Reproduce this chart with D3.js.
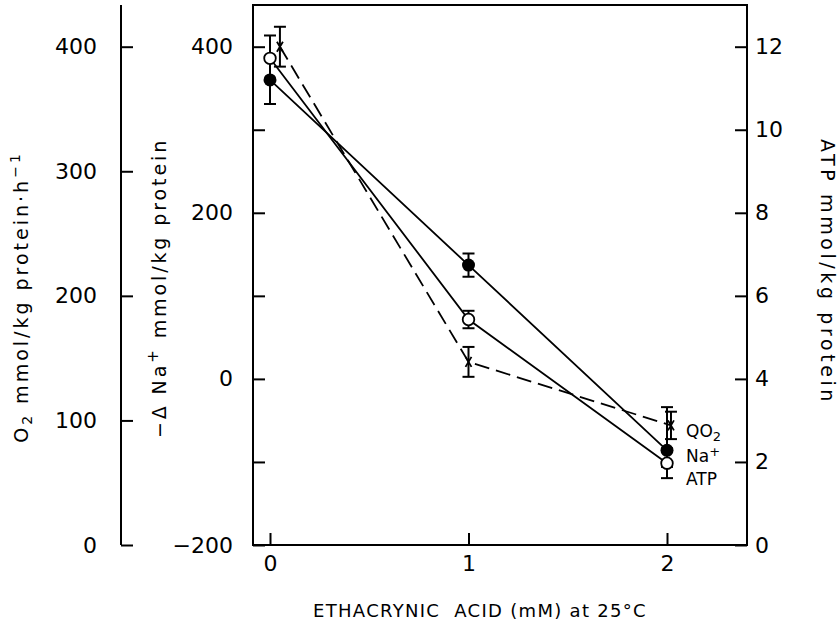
<!DOCTYPE html>
<html><head><meta charset="utf-8">
<script src="https://cdn.jsdelivr.net/npm/d3@7"></script>
<style>
body{margin:0;background:#fff}
svg text{font-family:"DejaVu Sans",sans-serif;fill:#000}
</style></head><body>
<svg id="c" width="839" height="627"></svg>
<script>
// ---- data ----
const xTicks = [0, 1, 2];
const naX = [0, 1, 2];
const naValues = [360, 137, -86];
const naErrUp = [29, 14, 52];
const naErrDown = [29, 14, 20];
const atpX = [0, 1, 2];
const atpValues = [11.72, 5.43, 1.97];
const atpErr = [0.55, 0.21, 0.36];
const qo2X = [0.05, 1, 2.02];
const qo2Values = [400, 147, 96];
const qo2Err = [16, 12, 11];
const naTicks = [-200, -100, 0, 100, 200, 300, 400];
const naTickLabels = [-200, 0, 200, 400];
const atpTicks = [0, 2, 4, 6, 8, 10, 12];
const o2Ticks = [0, 100, 200, 300, 400];

const svg = d3.select("#c");
const L = 253, R = 747, T = 5, B = 545;
const x = d3.scaleLinear().domain([0, 2]).range([270, 667]);
const yNa = d3.scaleLinear().domain([-200, 400]).range([B, 46.7]);
const yAtp = d3.scaleLinear().domain([0, 12]).range([B, 46.7]);
const yO2 = d3.scaleLinear().domain([0, 400]).range([B, 46.7]);

function styleAxis(g) {
  g.select(".domain").remove();
  g.selectAll(".tick line").attr("stroke", "#000").attr("stroke-width", 2);
  g.selectAll(".tick text").attr("font-size", 22).attr("font-family", "DejaVu Sans").attr("fill", "#000");
}

// frame
svg.append("rect").attr("x", L).attr("y", T).attr("width", R - L).attr("height", B - T)
  .attr("fill", "none").attr("stroke", "#000").attr("stroke-width", 2);

// middle (Na) axis: ticks inside, labels left
svg.append("g").attr("transform", `translate(${L},0)`)
  .call(d3.axisRight(yNa).tickValues(naTicks).tickSize(12).tickFormat(""))
  .call(styleAxis);
svg.append("g").attr("transform", `translate(${L},0)`)
  .call(d3.axisLeft(yNa).tickValues(naTickLabels).tickSize(0).tickPadding(20).tickFormat(d3.format("d")))
  .call(styleAxis);

// right (ATP) axis
svg.append("g").attr("transform", `translate(${R},0)`)
  .call(d3.axisLeft(yAtp).tickValues(atpTicks).tickSize(12).tickFormat(""))
  .call(styleAxis);
svg.append("g").attr("transform", `translate(${R},0)`)
  .call(d3.axisRight(yAtp).tickValues(atpTicks).tickSize(0).tickPadding(8).tickFormat(d3.format("d")))
  .call(styleAxis);

// left (O2) axis
const AX = 121;
svg.append("line").attr("x1", AX).attr("x2", AX).attr("y1", T).attr("y2", B)
  .attr("stroke", "#000").attr("stroke-width", 2);
svg.append("g").attr("transform", `translate(${AX},0)`)
  .call(d3.axisRight(yO2).tickValues(o2Ticks).tickSize(12).tickFormat(""))
  .call(styleAxis);
svg.append("g").attr("transform", `translate(${AX},0)`)
  .call(d3.axisLeft(yO2).tickValues(o2Ticks).tickSize(0).tickPadding(24).tickFormat(d3.format("d")))
  .call(styleAxis);

// x axis
svg.append("g").attr("transform", `translate(0,${B})`)
  .call(d3.axisTop(x).tickValues(xTicks).tickSize(12).tickFormat(""))
  .call(styleAxis);
svg.append("g").attr("transform", `translate(0,${B})`)
  .call(d3.axisBottom(x).tickValues(xTicks).tickSize(0).tickPadding(10).tickFormat(d3.format("d")))
  .call(styleAxis);

// ---- series ----
const na = naX.map((d, i) => ({x: d, y: naValues[i], up: naErrUp[i], dn: naErrDown[i]}));
const atp = atpX.map((d, i) => ({x: d, y: atpValues[i], up: atpErr[i], dn: atpErr[i]}));
const qo2 = qo2X.map((d, i) => ({x: d, y: qo2Values[i], up: qo2Err[i], dn: qo2Err[i]}));

function errBars(data, y) {
  const g = svg.append("g").attr("stroke", "#000").attr("stroke-width", 2);
  data.forEach(d => {
    const cx = x(d.x), y1 = y(d.y + d.up), y2 = y(d.y - d.dn);
    g.append("line").attr("x1", cx).attr("x2", cx).attr("y1", y1).attr("y2", y2);
    g.append("line").attr("x1", cx - 6).attr("x2", cx + 6).attr("y1", y1).attr("y2", y1);
    g.append("line").attr("x1", cx - 6).attr("x2", cx + 6).attr("y1", y2).attr("y2", y2);
  });
}
errBars(qo2, yO2);
errBars(na, yNa);
errBars(atp, yAtp);

const lineNa = d3.line().x(d => x(d.x)).y(d => yNa(d.y));
const lineAtp = d3.line().x(d => x(d.x)).y(d => yAtp(d.y));
const lineO2 = d3.line().x(d => x(d.x)).y(d => yO2(d.y));
svg.append("path").attr("d", lineO2(qo2)).attr("fill", "none").attr("stroke", "#000")
  .attr("stroke-width", 1.8).attr("stroke-dasharray", "15,7");
svg.append("path").attr("d", lineNa(na)).attr("fill", "none").attr("stroke", "#000").attr("stroke-width", 1.8);
svg.append("path").attr("d", lineAtp(atp)).attr("fill", "none").attr("stroke", "#000").attr("stroke-width", 1.8);

// x markers
svg.append("g").selectAll("path").data(qo2).join("path")
  .attr("d", d => { const cx = x(d.x), cy = yO2(d.y);
    return `M${cx-3},${cy-5}L${cx+3},${cy+5}M${cx+3},${cy-5}L${cx-3},${cy+5}`; })
  .attr("stroke", "#000").attr("stroke-width", 1.8).attr("fill", "none");

svg.append("g").selectAll("circle").data(na).join("circle")
  .attr("cx", d => x(d.x)).attr("cy", d => yNa(d.y)).attr("r", 6.5).attr("fill", "#000");
svg.append("g").selectAll("circle").data(atp).join("circle")
  .attr("cx", d => x(d.x)).attr("cy", d => yAtp(d.y)).attr("r", 5.8)
  .attr("fill", "#fff").attr("stroke", "#000").attr("stroke-width", 1.8);

// ---- series labels ----
const lab = svg.append("g").attr("font-size", 17);
const t1 = lab.append("text").attr("x", 686).attr("y", 437);
t1.append("tspan").text("QO");
t1.append("tspan").attr("font-size", 13).attr("dy", 4).text("2");
const t2 = lab.append("text").attr("x", 686).attr("y", 462);
t2.append("tspan").text("Na");
t2.append("tspan").attr("font-size", 13).attr("dy", -6).text("+");
lab.append("text").attr("x", 686).attr("y", 485).text("ATP");

// ---- axis titles ----
svg.append("text").attr("x", 480).attr("y", 617).attr("text-anchor", "middle")
  .attr("font-size", 18).attr("letter-spacing", 1.3).style("white-space", "pre")
  .text("ETHACRYNIC  ACID (mM) at 25°C");

const o2t = svg.append("text").attr("transform", "translate(28,297) rotate(-90)")
  .attr("text-anchor", "middle").attr("font-size", 19).attr("letter-spacing", 3);
o2t.append("tspan").text("O");
o2t.append("tspan").attr("font-size", 14).attr("dy", 4).text("2");
o2t.append("tspan").attr("dy", -4).text(" mmol/kg protein·h");
o2t.append("tspan").attr("font-size", 14).attr("dy", -8).text("−1");

const nat = svg.append("text").attr("transform", "translate(166,288) rotate(-90)")
  .attr("text-anchor", "middle").attr("font-size", 19).attr("letter-spacing", 2.9);
nat.append("tspan").text("−Δ Na");
nat.append("tspan").attr("font-size", 15).attr("dy", -8).text("+");
nat.append("tspan").attr("dy", 8).text(" mmol/kg protein");

svg.append("text").attr("transform", "translate(821,272) rotate(90)")
  .attr("text-anchor", "middle").attr("font-size", 19).attr("letter-spacing", 3.6)
  .text("ATP mmol/kg protein");
</script>
</body></html>
